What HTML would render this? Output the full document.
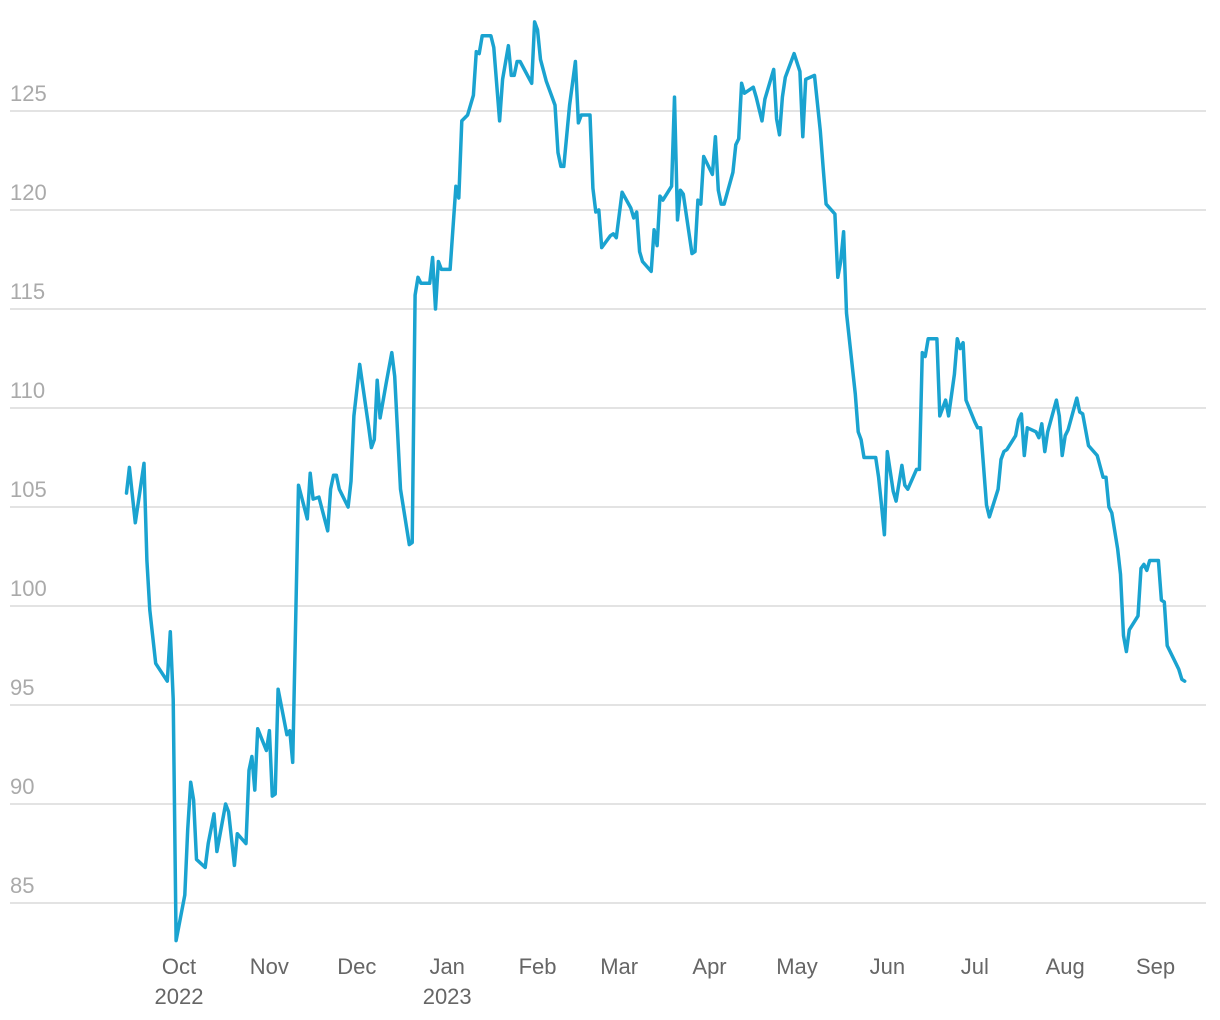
<!DOCTYPE html>
<html><head><meta charset="utf-8"><style>
html,body{margin:0;padding:0;background:#fff;}
svg{display:block;font-family:"Liberation Sans",sans-serif;}
</style></head><body>
<svg id="chart" width="1220" height="1020" viewBox="0 0 1220 1020">
<g id="grid"></g>
<g id="ylab"></g>
<g id="xlab"></g>
<path id="line" fill="none" stroke="#1aa3d0" stroke-width="3.5" stroke-linejoin="round" stroke-linecap="round"></path>
</svg>
<script>
// days since 2022-10-01
const days = [-18,-17,-15,-12,-11,-10,-8,-4,-3,-2,-1,2,3,4,5,6,9,10,12,13,16,17,19,20,23,24,25,26,27,30,31,32,33,34,37,38,39,41,44,45,46,48,51,52,53,54,55,58,59,60,62,65,66,67,68,69,71,73,74,76,79,80,81,82,83,86,87,88,89,90,93,94,95,96,97,99,101,102,103,104,107,108,110,111,113,114,115,116,117,121,122,123,124,126,128,129,130,131,132,134,136,137,138,141,142,143,144,145,148,149,150,152,155,156,157,158,159,162,163,164,165,166,169,170,171,172,173,176,177,178,179,180,183,184,185,186,187,190,191,192,193,194,197,198,200,201,204,205,206,207,208,211,213,214,215,218,220,221,222,225,226,227,228,229,232,233,234,235,239,240,241,242,243,245,246,248,249,250,253,254,255,256,257,260,261,263,264,266,267,268,269,270,273,274,275,277,278,281,282,283,284,287,288,289,290,291,294,295,296,297,298,301,302,303,304,305,308,309,310,312,315,317,318,319,320,322,323,324,325,326,329,330,331,332,333,336,337,338,339,342,343,344,345];
const values = [105.7,107.0,104.2,107.2,102.3,99.8,97.1,96.2,98.7,95.3,83.1,85.4,88.7,91.1,90.2,87.2,86.8,88.0,89.5,87.6,90.0,89.6,86.9,88.5,88.0,91.7,92.4,90.7,93.8,92.7,93.7,90.4,90.5,95.8,93.5,93.7,92.1,106.1,104.4,106.7,105.4,105.5,103.8,105.9,106.6,106.6,105.9,105.0,106.3,109.6,112.2,109.1,108.0,108.4,111.4,109.5,111.2,112.8,111.6,105.9,103.1,103.2,115.7,116.6,116.3,116.3,117.6,115.0,117.4,117.0,117.0,119.1,121.2,120.6,124.5,124.8,125.8,128.0,127.9,128.8,128.8,128.2,124.5,126.6,128.3,126.8,126.8,127.5,127.5,126.4,129.5,129.1,127.6,126.5,125.7,125.3,122.9,122.2,122.2,125.3,127.5,124.4,124.8,124.8,121.1,119.9,120.0,118.1,118.7,118.8,118.6,120.9,120.1,119.6,119.9,117.9,117.4,116.9,119.0,118.2,120.7,120.5,121.2,125.7,119.5,121.0,120.8,117.8,117.9,120.5,120.3,122.7,121.8,123.7,121.0,120.3,120.3,121.9,123.3,123.6,126.4,125.9,126.2,125.7,124.5,125.6,127.1,124.6,123.8,125.7,126.7,127.9,127.0,123.7,126.6,126.8,124.0,122.1,120.3,119.8,116.6,117.4,118.9,114.8,110.7,108.8,108.4,107.5,107.5,106.5,105.1,103.6,107.8,105.8,105.3,107.1,106.1,105.9,106.9,106.9,112.8,112.6,113.5,113.5,109.6,110.4,109.6,111.7,113.5,113.0,113.3,110.4,109.3,109.0,109.0,105.1,104.5,105.9,107.4,107.8,107.9,108.6,109.4,109.7,107.6,109.0,108.8,108.5,109.2,107.8,108.8,110.4,109.6,107.6,108.6,108.9,110.5,109.8,109.7,108.1,107.6,106.5,106.5,105.0,104.7,102.9,101.6,98.5,97.7,98.8,99.5,101.9,102.1,101.8,102.3,102.3,100.3,100.2,98.0,97.1,96.8,96.3,96.2];
const yTicks = [85,90,95,100,105,110,115,120,125];
const monthLabels = ["Oct","Nov","Dec","Jan","Feb","Mar","Apr","May","Jun","Jul","Aug","Sep"];
const monthDays = [0,31,61,92,123,151,182,212,243,273,304,335];
const yearLabels = ["2022","","","2023","","","","","","","",""];

const NS="http://www.w3.org/2000/svg";
function xScale(d){return 179 + d*2.915;}
function yScale(v){return 111 + (125-v)*19.8;}

const grid=document.getElementById('grid'), ylab=document.getElementById('ylab'), xlab=document.getElementById('xlab');
yTicks.forEach(t=>{
  const l=document.createElementNS(NS,'line');
  
  
  l.setAttribute('x1',10);l.setAttribute('x2',1206);
  l.setAttribute('y1',yScale(t));l.setAttribute('y2',yScale(t));
  l.setAttribute('stroke','#e3e3e3');l.setAttribute('stroke-width','2');
  grid.appendChild(l);
  const tx=document.createElementNS(NS,'text');
  
  
  tx.setAttribute('x',10);tx.setAttribute('y',yScale(t)-10);
  tx.setAttribute('fill','#aaaaaa');tx.setAttribute('font-size','22');
  tx.textContent=t;
  ylab.appendChild(tx);
});
monthLabels.forEach((m,i)=>{
  const tx=document.createElementNS(NS,'text');
  
  
  tx.setAttribute('x',xScale(monthDays[i]));tx.setAttribute('y',974);
  tx.setAttribute('text-anchor','middle');
  tx.setAttribute('fill','#666666');tx.setAttribute('font-size','22');
  tx.textContent=m;
  xlab.appendChild(tx);
  if(yearLabels[i]){
    const ty=document.createElementNS(NS,'text');
    
    
    ty.setAttribute('x',xScale(monthDays[i]));ty.setAttribute('y',1004);
    ty.setAttribute('text-anchor','middle');
    ty.setAttribute('fill','#666666');ty.setAttribute('font-size','22');
    ty.textContent=yearLabels[i];
    xlab.appendChild(ty);
  }
});
let d='';
days.forEach((dd,i)=>{d+=(i?'L':'M')+xScale(dd).toFixed(1)+','+yScale(values[i]).toFixed(1);});
document.getElementById('line').setAttribute('d',d);
</script>
</body></html>
